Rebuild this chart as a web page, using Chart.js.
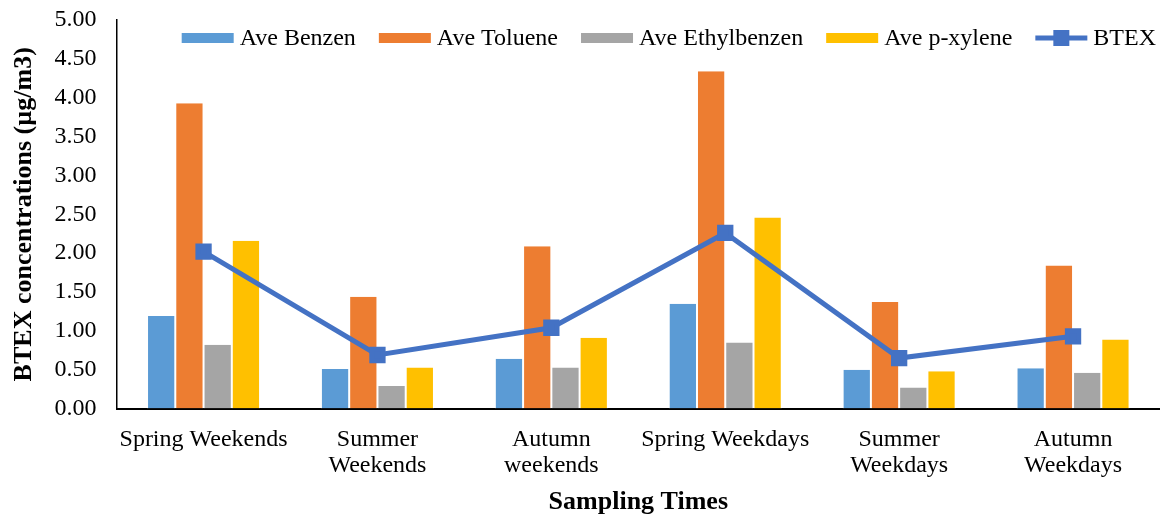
<!DOCTYPE html>
<html>
<head>
<meta charset="utf-8">
<script src="https://cdn.jsdelivr.net/npm/chart.js@4.4.1/dist/chart.umd.min.js"></script>
<style>
  html, body { margin: 0; padding: 0; background: #fff; }
  #wrap { width: 1160px; height: 517px; }
</style>
</head>
<body>
<div id="wrap"><canvas id="chart" width="1160" height="517"></canvas></div>
<script>
const categories = [
    'Spring Weekends',
    ['Summer', 'Weekends'],
    ['Autumn', 'weekends'],
    'Spring Weekdays',
    ['Summer', 'Weekdays'],
    ['Autumn', 'Weekdays']
];
const benzen = [1.19, 0.51, 0.64, 1.35, 0.50, 0.52];
const toluene = [3.93, 1.44, 2.09, 4.34, 1.37, 1.84];
const ethylbenzen = [0.82, 0.29, 0.53, 0.85, 0.27, 0.46];
const pXylene = [2.16, 0.53, 0.91, 2.46, 0.48, 0.89];
const btex = [2.02, 0.69, 1.04, 2.26, 0.65, 0.93];

const serif = "'Liberation Serif', 'Times New Roman', serif";

function barSet(label, data, color) {
    return {
        type: 'bar',
        label: label,
        data: data,
        backgroundColor: color,
        borderColor: '#ffffff',
        borderWidth: { left: 1, right: 1 },
        categoryPercentage: 0.65,
        barPercentage: 1.0,
        order: 2
    };
}

// legend drawn inside the plot, right aligned on one row
const topLegend = {
    id: 'topLegend',
    afterDraw(chart) {
        const ctx = chart.ctx;
        const y = 38;
        const boxW = 52, gap = 6, space = 23;
        ctx.save();
        ctx.font = '24px ' + serif;
        ctx.textBaseline = 'middle';
        const items = chart.data.datasets.map(ds => ({
            ds: ds,
            w: boxW + gap + ctx.measureText(ds.label).width
        }));
        let x = 1156 - items.reduce((s, it) => s + it.w, 0) - space * (items.length - 1);
        items.forEach(it => {
            const ds = it.ds;
            if (ds.type === 'line') {
                ctx.strokeStyle = ds.borderColor;
                ctx.lineWidth = 5;
                ctx.beginPath();
                ctx.moveTo(x, y);
                ctx.lineTo(x + boxW, y);
                ctx.stroke();
                ctx.fillStyle = ds.backgroundColor;
                ctx.fillRect(x + boxW / 2 - 8, y - 8, 16, 16);
            } else {
                ctx.fillStyle = ds.backgroundColor;
                ctx.fillRect(x, y - 5, boxW, 10);
            }
            ctx.fillStyle = '#000';
            ctx.fillText(ds.label, x + boxW + gap, y + 1);
            x += it.w + space;
        });
        ctx.restore();
    }
};

new Chart(document.getElementById('chart').getContext('2d'), {
    data: {
        labels: categories,
        datasets: [
            barSet('Ave Benzen', benzen, '#5B9BD5'),
            barSet('Ave Toluene', toluene, '#ED7D31'),
            barSet('Ave Ethylbenzen', ethylbenzen, '#A5A5A5'),
            barSet('Ave p-xylene', pXylene, '#FFC000'),
            {
                type: 'line',
                label: 'BTEX',
                data: btex,
                borderColor: '#4472C4',
                backgroundColor: '#4472C4',
                borderWidth: 5,
                pointStyle: 'rect',
                pointRadius: 8,
                pointHoverRadius: 8,
                tension: 0,
                order: 1
            }
        ]
    },
    options: {
        responsive: false,
        animation: false,
        layout: { autoPadding: false, padding: { left: 10, right: 0, top: 0, bottom: 0 } },
        plugins: {
            tooltip: { enabled: false },
            legend: { display: false }
        },
        scales: {
            x: {
                grid: { display: false, drawTicks: false },
                border: { display: true, color: '#000', width: 2 },
                ticks: {
                    font: { family: serif, size: 24, lineHeight: 1.1 },
                    color: '#000',
                    maxRotation: 0,
                    autoSkip: false,
                    padding: 18
                },
                title: {
                    display: true,
                    text: 'Sampling Times',
                    font: { family: serif, size: 26, weight: 'bold', lineHeight: 1.1 },
                    color: '#000',
                    padding: { top: -9, bottom: 0 }
                }
            },
            y: {
                min: 0,
                max: 5,
                grid: { display: false, drawTicks: false },
                border: { display: true, color: '#000', width: 1.5 },
                ticks: {
                    stepSize: 0.5,
                    font: { family: serif, size: 24 },
                    color: '#000',
                    padding: 20,
                    callback: v => v.toFixed(2)
                },
                title: {
                    display: true,
                    text: 'BTEX concentrations (µg/m3)',
                    font: { family: serif, size: 26, weight: 'bold', lineHeight: 1.1 },
                    color: '#000',
                    padding: { top: 0, bottom: -4 }
                },
                afterFit(axis) {
                    axis.paddingTop = 20;
                }
            }
        }
    },
    plugins: [topLegend]
});
</script>
</body>
</html>
